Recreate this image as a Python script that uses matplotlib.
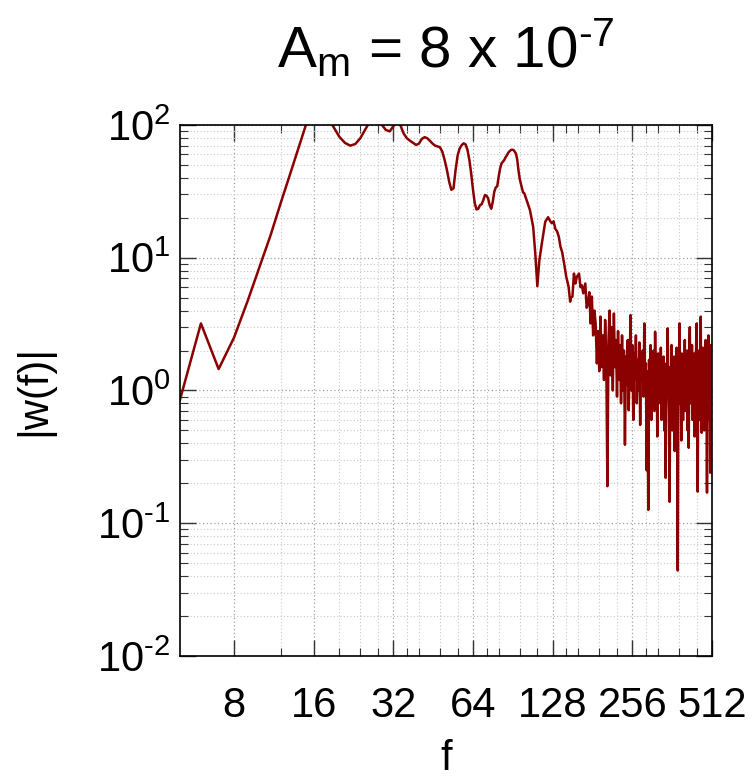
import numpy as np
import matplotlib
matplotlib.use('Agg')
import matplotlib.pyplot as plt
from matplotlib.ticker import FixedLocator, NullFormatter

plt.rcParams['font.family'] = ['Liberation Sans', 'DejaVu Sans']
plt.rcParams['mathtext.fontset'] = 'custom'
plt.rcParams['mathtext.rm'] = 'Liberation Sans'
plt.rcParams['mathtext.default'] = 'regular'

# smooth part, integer frequency bins 5..100
f_low = list(range(5, 101))
w_low = [0.85, 3.2, 1.45, 2.5, 4.7, 8.6, 14.8, 25.7, 42, 66.7,
         102, 130, 140, 120, 97, 81.6, 73.4, 69.9, 72, 79.5,
         91.7, 105, 120, 115, 100, 91.7, 89.6, 98, 105, 100,
         86.4, 79.5, 76.1, 73.4, 70.8, 72.5, 78.6, 81, 79.5, 76,
         72.5, 70, 69, 68, 63, 54.5, 45.9, 37.5, 32.5, 33.3,
         45.9, 59.2, 66.7, 70.6, 72.8, 71.4, 64.9, 54.5, 43, 32.5,
         25.7, 23.1, 23.4, 24.9, 25.3, 27.2, 29.7, 29.3, 28, 24.9,
         23.4, 26.4, 31.4, 33.9, 34.5, 40.8, 47, 51.4, 53, 54.5,
         57.3, 59.2, 62, 63.5, 64.9, 65.2, 64.9, 63, 60.8, 55,
         45.9, 39.6, 36.3, 33.3, 31, 30.6]

# middle part
f_mid = [102, 105, 108, 110, 112, 114, 117, 120, 123, 125,
         127, 129, 131, 133, 135, 137, 139, 142, 144, 147,
         149, 150, 152, 154, 156, 158, 161, 163, 165, 167,
         170, 172, 174, 176, 178, 180, 182, 184]
w_mid = [27.2, 22.9, 17.1, 10.8, 6.1, 9.6, 13.6, 18.7, 20.2, 19,
         18.2, 18.8, 16.5, 15.8, 14.4, 12.1, 11, 8.6, 7.2, 6.05,
         4.67, 5.0, 5.1, 7.6, 6.4, 7.2, 7.6, 6.0, 6.2, 5.4,
         6.4, 4.2, 4.5, 5.5, 3.2, 5.1, 2.6, 4.0]

# noisy tail, every second bin 186..512
f_tail = list(range(186, 513, 2))
w_tail = [3.2, 1.6, 2.8, 1.4, 3.6, 1.5, 2.6, 1.2, 3.4, 1.8,
          0.19, 2.4, 4.0, 1.3, 3.0, 1.0, 3.8, 1.5, 2.4, 0.9,
          2.8, 1.2, 2.2, 0.8, 2.6, 1.0, 2.0, 0.39, 1.8, 1.1,
          2.4, 0.71, 1.6, 3.7, 1.0, 2.2, 0.6, 1.9, 1.2, 2.6,
          0.8, 1.7, 1.0, 2.3, 0.55, 1.8, 1.3, 2.0, 0.9, 3.2,
          1.1, 1.6, 0.25, 1.4, 0.126, 1.7, 0.9, 2.2, 0.6, 1.5,
          1.0, 2.0, 0.7, 2.77, 1.2, 1.6, 0.45, 1.9, 0.8, 1.4,
          1.1, 2.1, 0.6, 1.5, 0.9, 1.8, 0.5, 1.2, 0.22, 1.6,
          0.9, 2.94, 1.1, 0.7, 0.145, 1.5, 0.8, 2.2, 0.5, 1.3,
          1.0, 1.8, 0.35, 1.4, 0.9, 2.1, 0.6, 0.044, 1.2, 1.7,
          3.2, 0.8, 1.5, 0.42, 1.9, 1.0, 0.6, 1.6, 1.1, 2.4,
          0.7, 1.3, 0.9, 2.0, 0.5, 1.4, 0.37, 1.8, 3.0, 0.8,
          1.5, 1.0, 2.2, 0.6, 1.3, 0.9, 1.9, 0.45, 1.6, 1.1,
          2.3, 3.2, 0.7, 0.173, 1.4, 1.0, 2.0, 0.6, 1.7, 3.6,
          0.9, 0.48, 1.5, 2.1, 0.8, 1.3, 0.5, 1.8, 1.0, 2.4,
          0.7, 1.4, 0.17, 1.9, 1.1, 2.6, 0.6, 1.5, 0.9, 0.24,
          1.6, 2.2, 0.8, 2.1]

f = np.array(f_low + f_mid + f_tail, dtype=float)
w = np.array(w_low + w_mid + w_tail)

xmajor = [8, 16, 32, 64, 128, 256, 512]
xminor = [12, 20, 24, 28, 36, 40, 48, 56, 72, 80, 96, 112,
          144, 160, 192, 224, 288, 320, 384, 448]
ymajor = [1e-2, 1e-1, 1e0, 1e1, 1e2]
ylabels = ['$10^{\u20102}$', '$10^{\u20101}$', '$10^{0}$', '$10^{1}$', '$10^{2}$']

fig = plt.figure(figsize=(7.53, 7.79), dpi=100)
ax = fig.add_axes([0.239, 0.158, 0.7066, 0.6815])

ax.plot(f, w, color='#8b0000', lw=1.8)

ax.set_xscale('log', base=2)
ax.set_yscale('log')
ax.set_xlim(5, 512)
ax.set_ylim(1e-2, 1e2)

ax.xaxis.set_major_locator(FixedLocator(xmajor))
ax.set_xticklabels([str(v) for v in xmajor])
ax.xaxis.set_minor_locator(FixedLocator(xminor))
ax.xaxis.set_minor_formatter(NullFormatter())
ax.set_yticks(ymajor)
ax.set_yticklabels(ylabels)
ax.yaxis.set_minor_locator(FixedLocator([m * 10.0 ** e for e in range(-2, 2) for m in range(2, 10)]))
ax.yaxis.set_minor_formatter(NullFormatter())

ax.tick_params(which='both', direction='in', top=True, right=True, color='#333333')
ax.tick_params(which='major', length=11.5, width=1.0, labelsize=30)
ax.tick_params(which='minor', length=5.8, width=0.8)
ax.tick_params(axis='x', which='major', pad=22)
ax.tick_params(axis='y', which='major', pad=7)

ax.grid(True, which='major', color='#a0a0a0', linestyle=(0, (1, 2)), lw=0.9)
ax.grid(True, which='minor', color='#c8c8c8', linestyle=(0, (1, 2)), lw=0.8)
for s in ax.spines.values():
    s.set_linewidth(1.2)

ax.set_xlabel('f', fontsize=30)
ax.xaxis.set_label_coords(0.5, -0.156)
ax.set_ylabel('|w(f)|', fontsize=30)
ax.yaxis.set_label_coords(-0.236, 0.5)
ax.set_title('A$_{m}$ = 8 x 10$^{\u20107}$', fontsize=42, pad=42)

fig.savefig('out.png', dpi=100)
